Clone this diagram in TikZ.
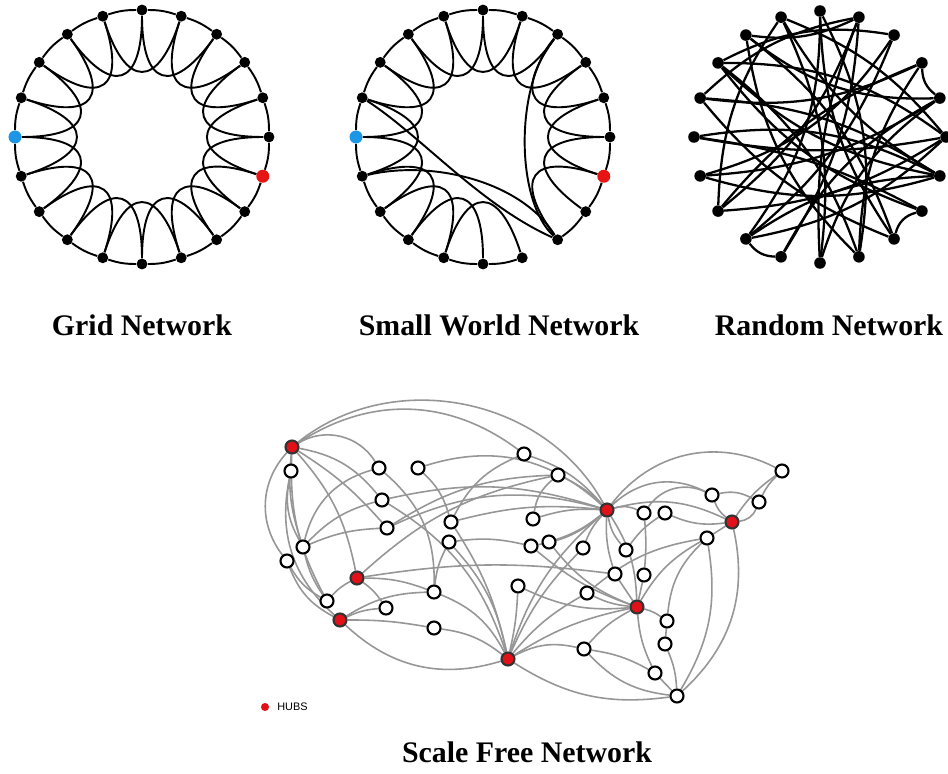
\documentclass[tikz,border=0pt]{standalone}
\usepackage{fontspec}
\setmainfont{Liberation Serif}
\setsansfont{Liberation Sans}
\usetikzlibrary{calc,backgrounds}
\definecolor{hubred}{RGB}{226,16,24}
\definecolor{startblue}{RGB}{30,150,230}
\definecolor{endred}{RGB}{232,20,20}
\definecolor{sfgray}{RGB}{150,150,150}

\begin{document}
\begin{tikzpicture}[x=0.02cm,y=-0.02cm,
  ringdot/.style={circle,fill=black,inner sep=0pt,minimum size=6.2pt},
  bluedot/.style={ringdot,fill=startblue,minimum size=7.4pt},
  reddot/.style={ringdot,fill=endred,minimum size=7.4pt},
  ringedge/.style={line width=1.1pt,black},
  randedge/.style={line width=1.3pt,black},
  sfnode/.style={circle,draw=black,fill=white,line width=1.2pt,inner sep=0pt,minimum size=7.4pt},
  hubnode/.style={sfnode,fill=hubred,draw=black!80},
  sfedge/.style={draw=sfgray,line width=0.9pt},
  caption/.style={font=\fontsize{17}{20}\selectfont\bfseries,anchor=base},
]
\useasboundingbox (0,0) rectangle (948,774);
\begin{pgfonlayer}{background}
\fill[white] (0,0) rectangle (948,774);
\end{pgfonlayer}

% ---------------- Grid network (ring lattice) ----------------
\coordinate (gc) at (142,137);
\foreach \j in {0,...,19}{
  \ifnum\j=6 \def\st{reddot}\else\ifnum\j=15 \def\st{bluedot}\else\def\st{ringdot}\fi\fi
  \node[\st] (g\j) at ($(gc)+(-90+18*\j:127)$) {};
}
\begin{pgfonlayer}{background}
\foreach \j [evaluate=\j as \k using {int(mod(\j+1,20))},
             evaluate=\j as \m using {int(mod(\j+2,20))}] in {0,...,19}{
  \draw[ringedge] (g\j) to[bend left=9] (g\k);
  \draw[ringedge] (g\j) .. controls ($(g\j)!0.6!(gc)$) and ($(g\m)!0.6!(gc)$) .. (g\m);
}
\end{pgfonlayer}

% ---------------- Small world network (rewired lattice) ----------------
\coordinate (sc) at (483,137);
\foreach \j in {0,...,19}{
  \ifnum\j=6 \def\st{reddot}\else\ifnum\j=15 \def\st{bluedot}\else\def\st{ringdot}\fi\fi
  \node[\st] (s\j) at ($(sc)+(-90+18*\j:127)$) {};
}
\begin{pgfonlayer}{background}
\foreach \j [evaluate=\j as \k using {int(mod(\j+1,20))},
             evaluate=\j as \m using {int(mod(\j+2,20))}] in {0,...,19}{
  \ifnum\j=8 \else
    \draw[ringedge] (s\j) to[bend left=9] (s\k);
  \fi
  \ifnum\j=7 \else\ifnum\j=8 \else
    \draw[ringedge] (s\j) .. controls ($(s\j)!0.6!(sc)$) and ($(s\m)!0.6!(sc)$) .. (s\m);
  \fi\fi
}
% shortcuts
\draw[ringedge] (s16) .. controls (420,135) and (480,205) .. (s8);
\draw[ringedge] (s14) .. controls (430,160) and (520,180) .. (s8);
\draw[ringedge] (s2) .. controls (515,85) and (515,200) .. (s8);
\end{pgfonlayer}

% ---------------- Random network ----------------
\coordinate (rc) at (820,137);
\foreach \j in {0,...,19}{
  \node[ringdot,minimum size=6.6pt] (r\j) at ($(rc)+(-90+18*\j:126)$) {};
}
\begin{pgfonlayer}{background}
\foreach \a/\b/\c in {0/12/18, 0/8/-16, 1/13/15, 1/10/-12, 2/14/20, 2/17/-18, 2/12/14,
  3/4/-25, 3/16/16, 3/13/-14, 4/18/20, 4/11/-16, 5/15/10, 5/17/-18, 5/12/16,
  6/16/-14, 6/14/16, 6/19/14, 7/8/-30, 7/17/16, 7/15/-10, 8/18/-16, 8/16/14,
  9/0/-18, 9/18/18, 9/3/16, 10/19/-16, 10/4/18, 11/12/25, 11/1/-14, 12/6/16,
  13/5/-14, 13/19/16, 14/4/-14, 15/6/18, 16/1/16, 17/6/-16, 18/1/-16, 19/5/14, 17/9/16}{
  \draw[randedge] (r\a) to[bend left=\c] (r\b);
}
\end{pgfonlayer}

% ---------------- Captions ----------------
\node[caption] (capgrid) at (142,335) {Grid Network};
\node[caption] (capsmall) at (499,335) {Small World Network};
\node[caption] (caprand) at (829,335) {Random Network};
\node[caption] (capfree) at (527,762) {Scale Free Network};

% ---------------- Scale free network ----------------
\foreach \n/\x/\y in {h1/292/447, h2/357/578, h3/340/620, h4/508/659,
  h5/607/510, h6/637/607, h7/732/522}{
  \node[hubnode] (\n) at (\x,\y) {};
}
\foreach \n/\x/\y in {w1/291/471, w2/379/468, w3/418/468, w4/524/454, w5/558/475,
  w6/782/471, w7/382/500, w8/387/528, w9/451/522, w10/449/542, w11/533/519,
  w12/531/546, w13/549/542, w14/644/513, w15/665/513, w16/712/495, w17/759/502,
  w18/707/538, w19/583/548, w20/626/550, w21/615/574, w22/644/575, w23/303/547,
  w24/287/561, w25/327/601, w26/386/608, w27/434/592, w28/434/628, w29/518/586,
  w30/587/593, w31/667/621, w32/665/644, w33/584/649, w34/655/673, w35/677/696}{
  \node[sfnode] (\n) at (\x,\y) {};
}
\begin{pgfonlayer}{background}
\foreach \a/\b/\c in {h1/w2/45, h1/h2/15, h1/w23/-12, h1/w24/-40, h1/w25/-15,
  h1/w8/8, h1/h5/50, h1/w4/35, h1/w7/20,
  w1/w23/-20, w1/h3/-30,
  w23/w2/30, w23/w7/15, w23/w8/10, w23/w25/-10,
  w24/w25/-15, w24/h3/-20,
  h2/w5/15, h2/w21/8, h2/w27/10, h2/w25/-10, h2/w26/10,
  h3/w26/10, h3/w27/15, h3/w28/5, h3/h4/-30,
  w27/h4/20, w27/w10/10, w28/h4/15,
  w7/h4/20, w7/h5/15, w8/h5/20, w8/w5/15,
  w3/w9/15, w3/h5/30, w2/w27/25,
  w4/w9/-20, w4/h5/15,
  w5/w11/-20, w5/h5/10,
  w9/h5/10, w9/h4/10,
  w10/w12/10, w10/h4/15,
  w11/h5/10, w12/h5/-15, w12/h6/-10, w13/h5/-10, w13/h6/-15,
  h4/h5/15, h4/w29/-5, h4/w19/10, h4/w30/10, h4/w35/-20, h4/w33/20, h4/h6/10,
  w29/h6/-15,
  h5/w19/-10, h5/w20/-15, h5/w21/-10, h5/h6/15, h5/h7/20, h5/w16/35, h5/w14/20, h5/w6/40,
  w14/w22/5, w14/w16/40,
  w15/w20/-10, w15/h7/-15,
  h7/w16/15, h7/w17/-30, h7/w6/10, h7/w18/0, h7/w35/30,
  w16/w17/20, w17/w6/10,
  w18/w35/20, w18/w31/-20, w18/w30/-15, w18/h6/-15,
  w21/h6/0, w22/h6/0,
  h6/w31/10, h6/w34/-10, h6/w30/10, h6/w33/-10,
  w31/w32/0, w33/w34/10, w33/w35/-20, w34/w35/0, w32/w35/10}{
  \draw[sfedge] (\a) to[bend left=\c] (\b);
}
\end{pgfonlayer}

% legend
\node[circle,fill=hubred,inner sep=0pt,minimum size=4.6pt] (legdot) at (265,707) {};
\node[anchor=west,inner sep=0pt,font=\sffamily\fontsize{6.2}{7}\selectfont] (legtxt) at (277,707) {HUBS};
\end{tikzpicture}
\end{document}
